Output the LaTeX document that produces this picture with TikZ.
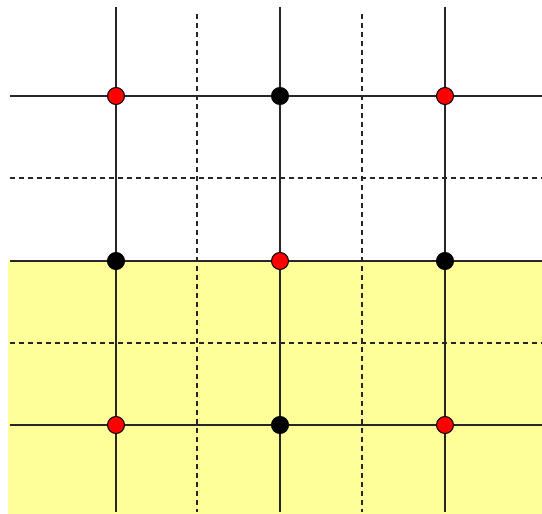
\documentclass[tikz,border=0pt]{standalone}
\begin{document}
\begin{tikzpicture}[x=1pt,y=-1pt,
  solidline/.style={line width=1.3pt,draw=black!85},
  dashline/.style={line width=1.3pt,draw=black!85,dash pattern=on 5pt off 4pt},
  reddot/.style={circle,draw=black,line width=1pt,fill=red,inner sep=0pt,minimum size=17pt},
  blackdot/.style={circle,draw=black,line width=1pt,fill=black,inner sep=0pt,minimum size=17pt}]
\useasboundingbox (0,0) rectangle (542,514);
\definecolor{paleyellow}{HTML}{FFFF99}
\fill[paleyellow] (8,261) rectangle (542,514);
% dashed lines
\foreach \x in {197,362} \draw[dashline] (\x,14) -- (\x,512);
\foreach \y in {178,343} \draw[dashline] (10,\y) -- (542,\y);
% solid lines
\foreach \x in {116,280,445} \draw[solidline] (\x,7) -- (\x,512);
\foreach \y in {96,261,425} \draw[solidline] (10,\y) -- (542,\y);
% dots
\node[reddot] (a1) at (116,96) {};
\node[blackdot] (a2) at (280,96) {};
\node[reddot] (a3) at (445,96) {};
\node[blackdot] (b1) at (116,261) {};
\node[reddot] (b2) at (280,261) {};
\node[blackdot] (b3) at (445,261) {};
\node[reddot] (c1) at (116,425) {};
\node[blackdot] (c2) at (280,425) {};
\node[reddot] (c3) at (445,425) {};
\end{tikzpicture}
\end{document}
